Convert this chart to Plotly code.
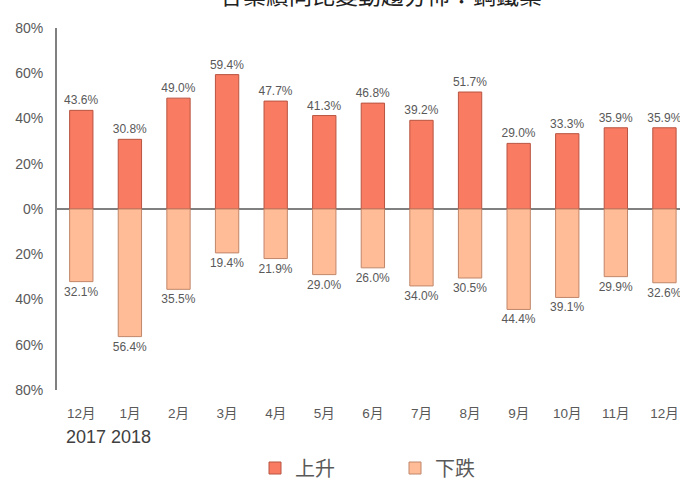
import plotly.graph_objects as go

months = ["12月", "1月", "2月", "3月", "4月", "5月", "6月", "7月", "8月", "9月", "10月", "11月", "12月"]
rise = [43.6, 30.8, 49.0, 59.4, 47.7, 41.3, 46.8, 39.2, 51.7, 29.0, 33.3, 35.9, 35.9]
fall = [32.1, 56.4, 35.5, 19.4, 21.9, 29.0, 26.0, 34.0, 30.5, 44.4, 39.1, 29.9, 32.6]
ytick_vals = [80, 60, 40, 20, 0, -20, -40, -60, -80]
ytick_text = ["80%", "60%", "40%", "20%", "0%", "20%", "40%", "60%", "80%"]
title_text = "各業績同比變動趨分佈：鋼鐵業"
years_text = "2017 2018"

SANS = "Liberation Sans, Arial, Noto Sans CJK TC, sans-serif"

x = list(range(len(months)))

L, T, PW, PH = 57, 28, 623, 362

fig = go.Figure()
fig.add_trace(go.Bar(
    x=x, y=rise, name="上升", width=0.48,
    marker=dict(color="#F97B62", line=dict(color="#B85440", width=1)),
    text=[f"{v:.1f}%" for v in rise], textposition="outside",
    textfont=dict(family=SANS, size=12, color="#595959"),
    constraintext="none", cliponaxis=False,
))
fig.add_trace(go.Bar(
    x=x, y=[-v for v in fall], name="下跌", width=0.48,
    marker=dict(color="#FFBC96", line=dict(color="#C0866A", width=1)),
    text=[f"{v:.1f}%" for v in fall], textposition="outside",
    textfont=dict(family=SANS, size=12, color="#595959"),
    constraintext="none", cliponaxis=False,
))

fig.update_layout(
    width=680, height=480,
    margin=dict(l=L, r=0, t=T, b=480 - T - PH, autoexpand=False),
    barmode="overlay",
    plot_bgcolor="white", paper_bgcolor="white",
    showlegend=True,
    legend=dict(orientation="h", x=255 / 680, xanchor="left", xref="container",
                y=0.025, yref="container", yanchor="middle",
                font=dict(family=SANS, size=20, color="#595959"),
                entrywidth=95, entrywidthmode="pixels", traceorder="normal"),
    xaxis=dict(range=[-0.5, 12.32], tickvals=x, ticktext=months, showline=False,
               showgrid=False, zeroline=False, ticks="", automargin=False,
               tickfont=dict(family=SANS, size=13.5, color="#595959"), ticklabelstandoff=13),
    yaxis=dict(range=[-80, 80], tickvals=ytick_vals, ticktext=ytick_text,
               showline=True, linecolor="#808080", linewidth=2, automargin=False,
               showgrid=False, zeroline=True, zerolinecolor="#808080", zerolinewidth=2,
               ticks="", ticklabelstandoff=9,
               tickfont=dict(family=SANS, size=14, color="#595959")),
    annotations=[
        dict(text=years_text, xref="paper", yref="paper", x=(64 - L) / PW, y=(390 - 437) / PH,
             xanchor="left", yanchor="middle", showarrow=False,
             font=dict(family=SANS, size=18, color="#404040")),
        dict(text=title_text, xref="paper", yref="paper", x=(381 - L) / PW, y=(390 + 6) / PH,
             xanchor="center", yanchor="middle", showarrow=False,
             font=dict(family="Noto Sans CJK TC, sans-serif", size=23, color="#222222")),
    ],
)

fig.write_html("out.html", config={"displayModeBar": False},
               post_script="document.body.style.margin='0';")
